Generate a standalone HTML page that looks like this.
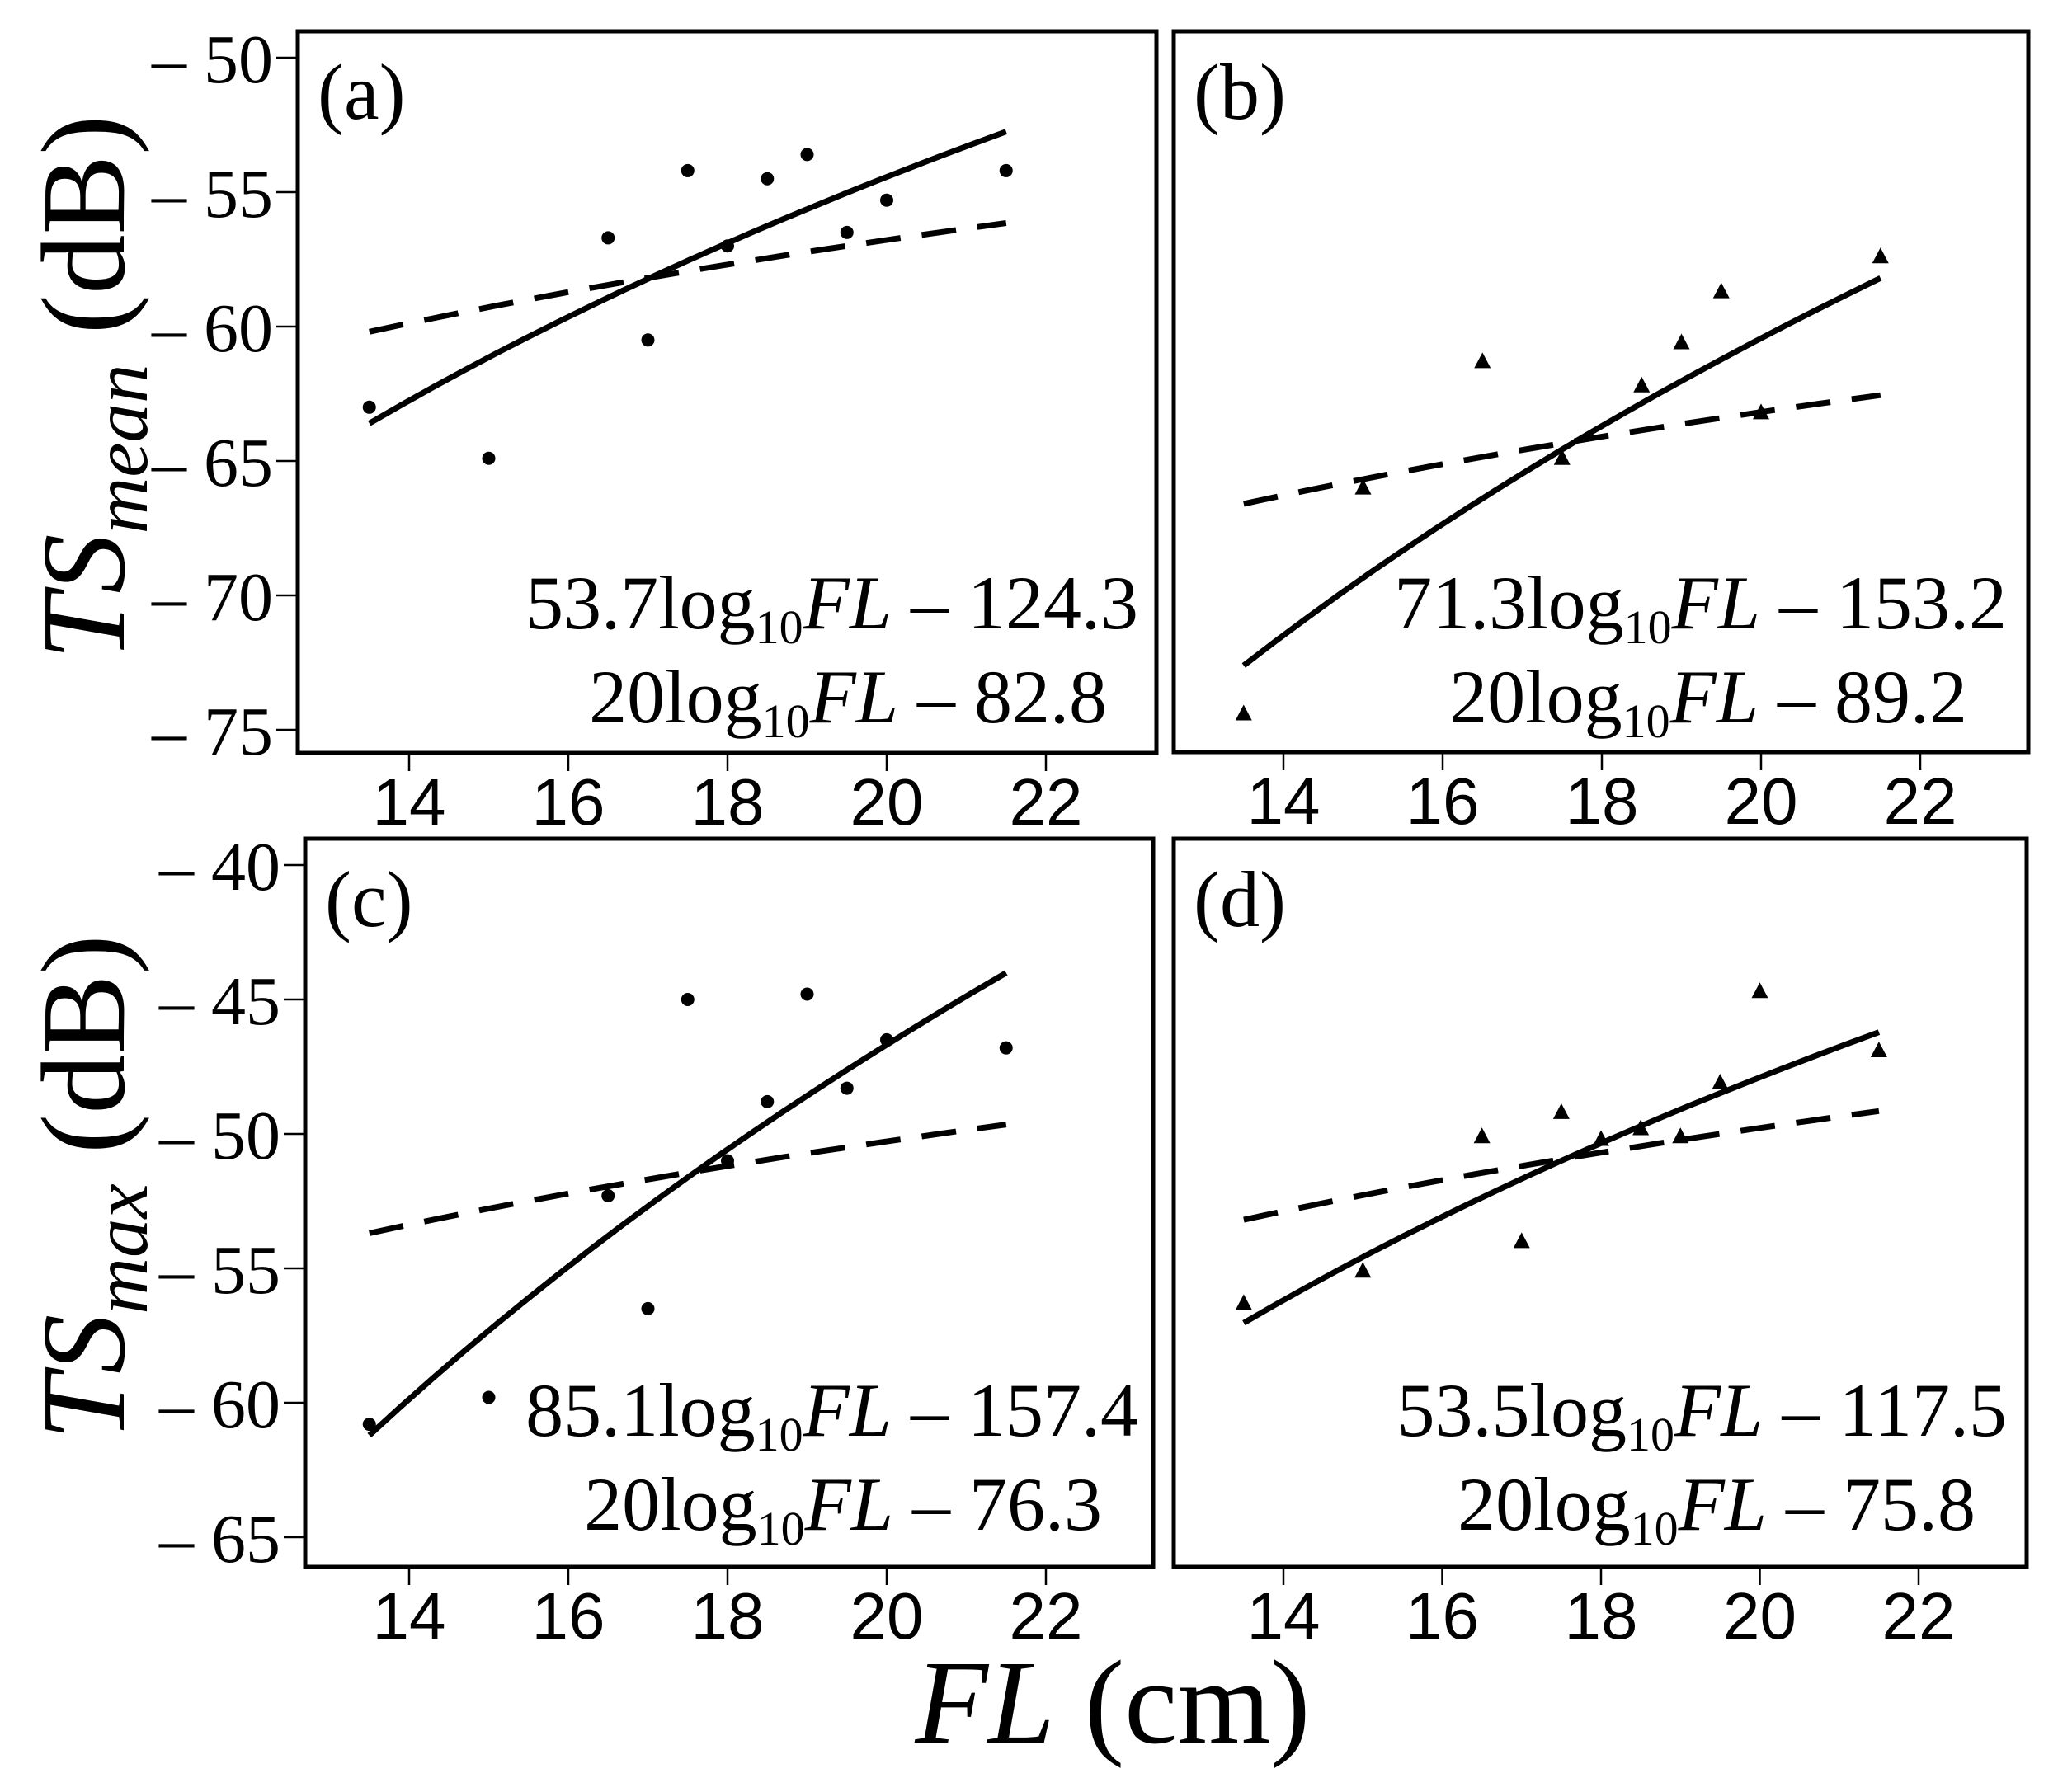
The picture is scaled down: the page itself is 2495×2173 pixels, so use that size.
<!DOCTYPE html>
<html><head><meta charset="utf-8"><style>
html,body{margin:0;padding:0;background:#fff;}
svg{display:block;}
.tk{font-family:"Liberation Sans",sans-serif;font-size:80px;fill:#000;}
.yt{font-family:"Liberation Serif",serif;font-size:84px;fill:#000;}
.eq{font-family:"Liberation Serif",serif;font-size:92px;fill:#000;}
.pl{font-family:"Liberation Serif",serif;font-size:96px;fill:#000;}
.ttl{font-family:"Liberation Serif",serif;font-size:145px;fill:#000;}
</style></head><body>
<svg id="fig" width="2495" height="2173" viewBox="0 0 2495 2173" xmlns="http://www.w3.org/2000/svg"></svg>
<script>
// ---- data ----
const xTicks = [14, 16, 18, 20, 22];
const yTicksTop = [-50, -55, -60, -65, -70, -75];
const yTicksBot = [-40, -45, -50, -55, -60, -65];
const aX = [13.5, 15, 16.5, 17, 17.5, 18, 18.5, 19, 19.5, 20, 21.5];
const aY = [-63.0, -64.9, -56.7, -60.5, -54.2, -57.0, -54.5, -53.6, -56.5, -55.3, -54.2];
const bX = [13.5, 15, 16.5, 17.5, 18.5, 19, 19.5, 20, 21.5];
const bY = [-74.4, -66.0, -61.3, -64.9, -62.2, -60.6, -58.7, -63.2, -57.4];
const cX = [13.5, 15, 16.5, 17, 17.5, 18, 18.5, 19, 19.5, 20, 21.5];
const cY = [-60.8, -59.8, -52.3, -56.5, -45.0, -51.0, -48.8, -44.8, -48.3, -46.5, -46.8];
const dX = [13.5, 15, 16.5, 17, 17.5, 18, 18.5, 19, 19.5, 20, 21.5];
const dY = [-56.3, -55.1, -50.1, -54.0, -49.2, -50.2, -49.8, -50.1, -48.1, -44.7, -46.9];
const fitSlope = [53.7, 71.3, 85.1, 53.5];
const fitIcept = [-124.3, -153.2, -157.4, -117.5];
const refIcept = [-82.8, -89.2, -76.3, -75.8];
const fitRange = [13.5, 21.5];
const eqText1 = ["53.7", "71.3", "85.1", "53.5"];
const eqText2 = ["20", "20", "20", "20"];
const eqConst1 = ["124.3", "153.2", "157.4", "117.5"];
const eqConst2 = ["82.8", "89.2", "76.3", "75.8"];
const panelLabels = ["(a)", "(b)", "(c)", "(d)"];

const NS = "http://www.w3.org/2000/svg";
const svg = document.getElementById('fig');
function mk(tag, attrs, parent) {
  const e = document.createElementNS(NS, tag);
  for (const k in attrs) e.setAttribute(k, attrs[k]);
  (parent || svg).appendChild(e);
  return e;
}
const panels = [
  {L:361, R:1402, T:38, B:913, x14:496, x22:1268, y0:-50, y0px:70, yt:yTicksTop, X:aX, Y:aY, mk:'dot', showY:true},
  {L:1423, R:2459, T:38, B:912, x14:1556, x22:2328, y0:-50, y0px:70, yt:yTicksTop, X:bX, Y:bY, mk:'tri', showY:false},
  {L:370, R:1398, T:1017, B:1900, x14:496, x22:1268, y0:-40, y0px:1049, yt:yTicksBot, X:cX, Y:cY, mk:'dot', showY:true},
  {L:1423, R:2457, T:1017, B:1900, x14:1556, x22:2326, y0:-40, y0px:1049, yt:yTicksBot, X:dX, Y:dY, mk:'tri', showY:false}
];
const DB = 32.6;
panels.forEach((p, i) => {
  const g = mk('g', {});
  
  
  const sx = v => p.x14 + (v - 14) * (p.x22 - p.x14) / 8;
  const sy = v => p.y0px + (p.y0 - v) * DB;
  const frame = mk('rect', {x:p.L, y:p.T, width:p.R-p.L, height:p.B-p.T, fill:'none', stroke:'#000', 'stroke-width':5}, g);
  
  
  xTicks.forEach(t => {
    const x = sx(t);
    const tl = mk('line', {x1:x, x2:x, y1:p.B, y2:p.B+22, stroke:'#000', 'stroke-width':2.5}, g);
    
    
    const tx = mk('text', {x:x, y:p.B+87, 'text-anchor':'middle', class:'tk'}, g);
    tx.textContent = t;
    
    
  });
  if (p.showY) {
    p.yt.forEach(t => {
      const y = sy(t);
      const tl = mk('line', {x1:p.L-26, x2:p.L, y1:y, y2:y, stroke:'#000', 'stroke-width':2.5}, g);
      
      
      const tx = mk('text', {x:p.L-30, y:y+30, 'text-anchor':'end', class:'yt'}, g);
      tx.textContent = '\u2013 ' + Math.abs(t);
      
      
    });
  }
  const N = 20;
  let dS = '', dD = '';
  for (let k = 0; k <= N; k++) {
    const v = fitRange[0] + (fitRange[1] - fitRange[0]) * k / N;
    const lg = Math.log10(v);
    dS += (k ? 'L' : 'M') + sx(v).toFixed(1) + ',' + sy(fitSlope[i] * lg + fitIcept[i]).toFixed(1);
    dD += (k ? 'L' : 'M') + sx(v).toFixed(1) + ',' + sy(20 * lg + refIcept[i]).toFixed(1);
  }
  const ls = mk('path', {d:dS, fill:'none', stroke:'#000', 'stroke-width':7}, g);
  
  
  const ld = mk('path', {d:dD, fill:'none', stroke:'#000', 'stroke-width':7, 'stroke-dasharray':'42 26'}, g);
  
  
  p.X.forEach((xv, j) => {
    const cx = sx(xv), cy = sy(p.Y[j]);
    let m;
    if (p.mk === 'dot') m = mk('circle', {cx:cx, cy:cy, r:8, fill:'#000'}, g);
    else m = mk('polygon', {points:`${cx},${cy-11} ${cx-10},${cy+8} ${cx+10},${cy+8}`, fill:'#000'}, g);
    
    
  });
  const pl = mk('text', {x:p.L+24, y:p.T+106, class:'pl'}, g);
  pl.textContent = panelLabels[i];
  
  
  const r1 = [1380, 2433, 1380, 2433][i], r2 = [1342, 2385, 1336, 2395][i];
  const b1 = p.T + 724, b2 = p.T + 838;
  [[eqText1[i], eqConst1[i], r1, b1, 'equation-fit'], [eqText2[i], eqConst2[i], r2, b2, 'equation-reference']].forEach(q => {
    const t = mk('text', {x:q[2], y:q[3], 'text-anchor':'end', class:'eq'}, g);
    t.innerHTML = `${q[0]}log<tspan font-size="58" dy="18">10</tspan><tspan dy="-18" font-style="italic">FL</tspan> \u2013 ${q[1]}`;
    
    
  });
});
function yTitle(cy, sub, name) {
  const t = mk('text', {x:0, y:0, class:'ttl', 'text-anchor':'middle', transform:`translate(150,${cy}) rotate(-90)`});
  t.innerHTML = `<tspan font-style="italic">TS</tspan><tspan font-style="italic" font-size="95" dy="28">${sub}</tspan><tspan dy="-28"> (dB)</tspan>`;
  
  
}
yTitle(470, 'mean', 'y-axis-title-mean');
yTitle(1440, 'max', 'y-axis-title-max');
const xt = mk('text', {x:1349, y:2113, class:'ttl', 'text-anchor':'middle'});
xt.innerHTML = '<tspan font-style="italic">FL</tspan> (cm)';


</script>
</body></html>
